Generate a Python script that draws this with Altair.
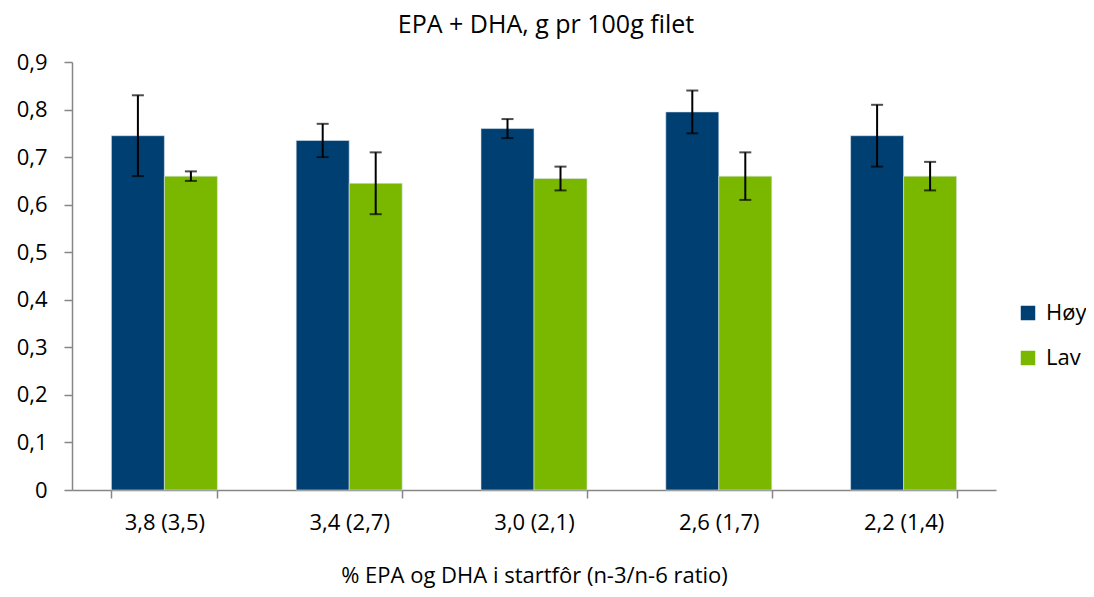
import pandas as pd
import altair as alt

# Values
categories = ["3,8 (3,5)", "3,4 (2,7)", "3,0 (2,1)", "2,6 (1,7)", "2,2 (1,4)"]
series = ["Høy", "Lav"]

hoy = [0.745, 0.735, 0.76, 0.795, 0.745]
hoy_lo = [0.66, 0.70, 0.74, 0.75, 0.68]
hoy_hi = [0.83, 0.77, 0.78, 0.84, 0.81]

lav = [0.66, 0.645, 0.655, 0.66, 0.66]
lav_lo = [0.65, 0.58, 0.63, 0.61, 0.63]
lav_hi = [0.67, 0.71, 0.68, 0.71, 0.69]

y_ticks = [0, 0.1, 0.2, 0.3, 0.4, 0.5, 0.6, 0.7, 0.8, 0.9]

# Long-form table
rows = []
for i, cat in enumerate(categories):
    rows.append({"ratio": cat, "gruppe": "Høy", "verdi": hoy[i], "lo": hoy_lo[i], "hi": hoy_hi[i]})
    rows.append({"ratio": cat, "gruppe": "Lav", "verdi": lav[i], "lo": lav_lo[i], "hi": lav_hi[i]})
df = pd.DataFrame(rows)

FONT = "Open Sans"
GREY = "#868686"

x_scale = alt.Scale(paddingInner=0.4264, paddingOuter=0.2132)
x_off = alt.XOffset("gruppe:N", sort=series, scale=alt.Scale(paddingInner=0, paddingOuter=0))
y_scale = alt.Scale(domain=[0, 0.9], nice=False)

bars = alt.Chart(df).mark_bar(stroke="#d8e4ee", strokeWidth=0.6).encode(
    x=alt.X(
        "ratio:N",
        sort=categories,
        title="% EPA og DHA i startfôr (n-3/n-6 ratio)",
        scale=x_scale,
        axis=alt.Axis(labelAngle=0, tickBand="extent", labelPadding=14, titlePadding=32),
    ),
    xOffset=x_off,
    y=alt.Y(
        "verdi:Q",
        scale=y_scale,
        title=None,
        axis=alt.Axis(
            values=y_ticks, grid=False, labelPadding=17,
            labelExpr="datum.value == 0 ? '0' : replace(format(datum.value, '.1f'), '.', ',')",
        ),
    ),
    color=alt.Color(
        "gruppe:N",
        sort=series,
        scale=alt.Scale(domain=series, range=["#003F72", "#7AB800"]),
        legend=alt.Legend(
            title=None, orient="none", legendX=945, legendY=240,
            symbolType="square", symbolSize=210, symbolStrokeWidth=0,
            labelFont=FONT, labelFontSize=22, labelOffset=7, rowPadding=23, labelColor="black",
        ),
    ),
)

err = alt.Chart(df).mark_rule(color="black", strokeWidth=2).encode(
    x=alt.X("ratio:N", sort=categories),
    xOffset=x_off,
    y=alt.Y("lo:Q", scale=y_scale),
    y2="hi:Q",
)

cap_lo = alt.Chart(df).mark_tick(color="black", thickness=2, size=12, orient="horizontal").encode(
    x=alt.X("ratio:N", sort=categories),
    xOffset=x_off,
    y=alt.Y("lo:Q", scale=y_scale),
)
cap_hi = alt.Chart(df).mark_tick(color="black", thickness=2, size=12, orient="horizontal").encode(
    x=alt.X("ratio:N", sort=categories),
    xOffset=x_off,
    y=alt.Y("hi:Q", scale=y_scale),
)

chart = alt.layer(bars, err, cap_lo, cap_hi).properties(
    width=924,
    height=428,
    title=alt.TitleParams("EPA + DHA, g pr 100g filet", fontSize=25, fontWeight="normal",
                          font=FONT, color="black", offset=13, dx=12),
    autosize=alt.AutoSizeParams(type="none"),
    padding={"left": 64, "top": 54, "right": 90, "bottom": 99},
).configure(font=FONT).configure_axis(
    labelFont=FONT, titleFont=FONT, labelFontSize=22, titleFontSize=22,
    titleFontWeight="normal", labelColor="black", titleColor="black",
    tickSize=8, tickColor=GREY, tickWidth=1.5, domainColor=GREY, domainWidth=1.5,
).configure_view(strokeWidth=0)

chart.save("out.html", embed_options={"renderer": "svg", "actions": False})
